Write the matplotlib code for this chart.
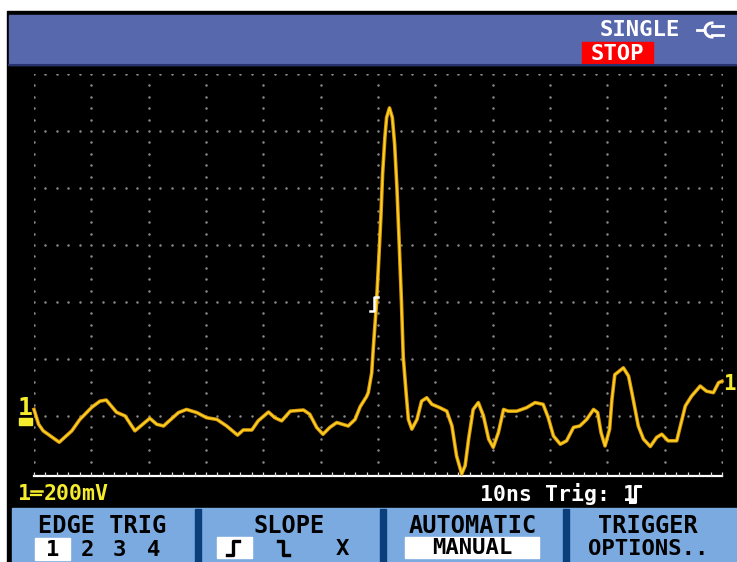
import numpy as np
import matplotlib
matplotlib.use('Agg')
import matplotlib.pyplot as plt
from matplotlib.patches import Rectangle

# waveform: time in ns (10 ns/div), channel 1 in mV (200 mV/div)
time_ns = [0.0, 0.8, 1.6, 4.4, 6.6, 8.0, 10.1, 11.5, 12.6, 14.4, 15.9, 17.6, 20.2, 21.4,
           22.6, 23.7, 25.2, 26.6, 28.4, 30.1, 31.9, 33.6, 35.5, 36.5, 38.0, 39.1, 40.9,
           42.0, 43.2, 44.7, 47.0, 48.1, 49.3, 50.4, 51.6, 52.8, 54.8, 56.0, 56.9, 58.0,
           58.3, 58.9, 59.2, 59.7, 60.1, 60.5, 60.8, 61.2, 61.5, 62.0, 62.5, 62.9, 63.3,
           63.7, 64.1, 64.4, 64.9, 65.3, 65.9, 66.8, 67.6, 68.5, 69.4, 70.8, 72.0, 72.9,
           73.7, 74.6, 75.2, 75.8, 76.6, 77.5, 78.4, 79.3, 80.1, 81.0, 81.9, 82.7, 84.2,
           85.9, 87.4, 88.8, 89.7, 90.6, 91.8, 92.9, 94.1, 95.2, 96.4, 97.6, 98.3, 98.9,
           99.6, 100.4, 100.8, 101.3, 102.8, 103.7, 104.4, 105.4, 106.3, 107.5, 108.6,
           109.5, 110.6, 112.1, 113.6, 114.7, 116.2, 117.3, 118.5, 119.4, 120.0]
volts_mv = [23, -29, -52, -92, -52, -12, 31, 52, 56, 13, 0, -52, -8, -29,
            -35, -15, 12, 23, 12, -6, -12, -35, -67, -49, -49, -17, 14,
            -6, -17, 17, 21, 6, -40, -64, -40, -23, -35, -12, 33, 68,
            82, 151, 244, 384, 535, 698, 849, 977, 1047, 1081, 1047, 954, 802,
            605, 395, 209, 82, -12, -46, -12, 52, 64, 41, 29, 17, -35,
            -140, -203, -174, -81, 23, 47, 0, -81, -110, -58, 23, 17, 17,
            29, 47, 41, -6, -70, -99, -87, -40, -35, -12, 23, 12, -58,
            -105, -46, 58, 145, 169, 140, 70, -35, -81, -107, -75,
            -64, -87, -87, 35, 70, 105, 87, 82, 117, 122]

status_label = 'SINGLE'
stop_label = 'STOP'
scale_channel = '1'
scale_value = '200mV'
time_label = '10ns Trig: 1'
menu_titles = ['EDGE TRIG', 'SLOPE', 'AUTOMATIC', 'TRIGGER']
menu_centers = [102, 289, 473, 648]
channel_keys = ['1', '2', '3', '4']

W, H = 737, 562
MONO = ['DejaVu Sans Mono', 'DejaVu Sans']

fig = plt.figure(figsize=(W / 100, H / 100), dpi=100)
fig.patch.set_facecolor('white')

# background layer in pixel coordinates
bg = fig.add_axes([0, 0, 1, 1])
bg.set_xlim(0, W)
bg.set_ylim(H, 0)
bg.axis('off')
bg.add_patch(Rectangle((7, 11), W - 7, H - 11, color='black'))
bg.add_patch(Rectangle((9, 15), W - 9, 50, color='#5868AC'))
bg.plot([9, W], [64.5, 64.5], color='#27336E', lw=1.5)
bg.add_patch(Rectangle((582, 42), 71, 22, color='#FF0000'))
bg.add_patch(Rectangle((12, 508), W - 12, H - 508, color='#7AAADF'))
for sx in [198, 383, 566]:
    bg.add_patch(Rectangle((sx - 3, 509), 6, H - 509, color='#0B3F7C'))

# scope graticule axes: 12 x 7 divisions
x0, x1, y0, y1 = 34, 722, 74, 473
ax = fig.add_axes([x0 / W, 1 - y1 / H, (x1 - x0) / W, (y1 - y0) / H])
ax.set_xlim(0, 120)
ax.set_ylim(-200, 1200)
ax.axis('off')
ax.patch.set_alpha(0)

minor_x = np.arange(0, 120.1, 2)
major_x = np.arange(0, 120.1, 10)
minor_y = np.arange(-160, 1200.1, 40)
major_y = np.arange(0, 1200.1, 200)
gx, gy = [], []
for yv in major_y:
    gx += list(minor_x)
    gy += [yv] * len(minor_x)
for xv in major_x:
    for yv in minor_y:
        if yv % 200 != 0:
            gx.append(xv)
            gy.append(yv)
ax.plot(gx, gy, ls='none', marker='o', ms=1.8, mew=0, color='#8A8A8A')

# baseline with tick marks
ax.plot([0, 120], [-209, -209], color='white', lw=1.6, clip_on=False)
ax.vlines(minor_x, -209, -198, color='#DDDDDD', lw=0.9, clip_on=False)

# trace
ax.plot(time_ns, volts_mv, color='#D8960E', lw=2.6, clip_on=False)
ax.plot(time_ns, volts_mv, color='#FFD523', lw=1.1, clip_on=False)

# overlay layer for markers and labels
top = fig.add_axes([0, 0, 1, 1])
top.set_xlim(0, W)
top.set_ylim(H, 0)
top.axis('off')
top.patch.set_alpha(0)

yel = '#F4EC2C'
top.text(25, 408, '1', color=yel, fontsize=18, fontweight='bold', family=MONO,
         ha='center', va='center')
top.add_patch(Rectangle((19, 418), 13, 7, color=yel))
top.text(729, 384, '1', color=yel, fontsize=15, fontweight='bold', family=MONO,
         ha='center', va='center')

# trigger point marker
top.plot([370, 374, 374, 378], [311, 311, 297, 297], color='white', lw=1.8)

# status bar
top.text(640, 30, status_label, color='white', fontsize=16, fontweight='bold',
         family=MONO, ha='center', va='center')
top.plot([697, 704], [30, 30], color='white', lw=2)
t = np.linspace(np.pi / 2, 3 * np.pi / 2, 20)
top.plot(712 + 7 * np.cos(t), 30 + 7 * np.sin(t), color='white', lw=2.2)
top.plot([712, 723], [25.5, 25.5], color='white', lw=2)
top.plot([712, 723], [34.5, 34.5], color='white', lw=2)
top.text(617, 53.5, stop_label, color='white', fontsize=16, fontweight='bold',
         family=MONO, ha='center', va='center')

# readouts (DC coupling sign drawn as a small shape)
top.text(18, 494, scale_channel, color=yel, fontsize=15.5, fontweight='bold',
         family=MONO, ha='left', va='center')
top.plot([31, 42], [490.5, 490.5], color=yel, lw=1.8)
for dx in [31, 35, 39]:
    top.plot([dx, dx + 2.5], [495, 495], color=yel, lw=1.6)
top.text(44, 494, scale_value, color=yel, fontsize=15.5, fontweight='bold',
         family=MONO, ha='left', va='center')
top.text(480, 494, time_label, color='white', fontsize=15.5, fontweight='bold',
         family=MONO, ha='left', va='center')
top.plot([630, 635, 635, 640], [502, 502, 486, 486], color='white', lw=2.2)

# soft-key menu
for label, cx in zip(menu_titles, menu_centers):
    top.text(cx, 526, label, color='black', fontsize=17, fontweight='bold',
             family=MONO, ha='center', va='center')
top.add_patch(Rectangle((35, 538), 35, 22, color='white'))
for key, kx in zip(channel_keys, [53, 87, 119, 154]):
    top.text(kx, 550, key, color='black', fontsize=16, fontweight='bold',
             family=MONO, ha='center', va='center')
top.add_patch(Rectangle((217, 537), 35, 21, color='white'))
top.plot([227, 233, 233, 239], [555, 555, 541, 541], color='black', lw=2.4)
top.plot([278, 283, 283, 289], [541, 541, 555, 555], color='black', lw=2.4)
top.text(342, 549, 'X', color='black', fontsize=16, fontweight='bold',
         family=MONO, ha='center', va='center')
top.add_patch(Rectangle((405, 537), 134, 21, color='white'))
top.text(472, 548, 'MANUAL', color='black', fontsize=16, fontweight='bold',
         family=MONO, ha='center', va='center')
top.text(648, 549, 'OPTIONS..', color='black', fontsize=16, fontweight='bold',
         family=MONO, ha='center', va='center')

fig.savefig('out.png', dpi=100)
